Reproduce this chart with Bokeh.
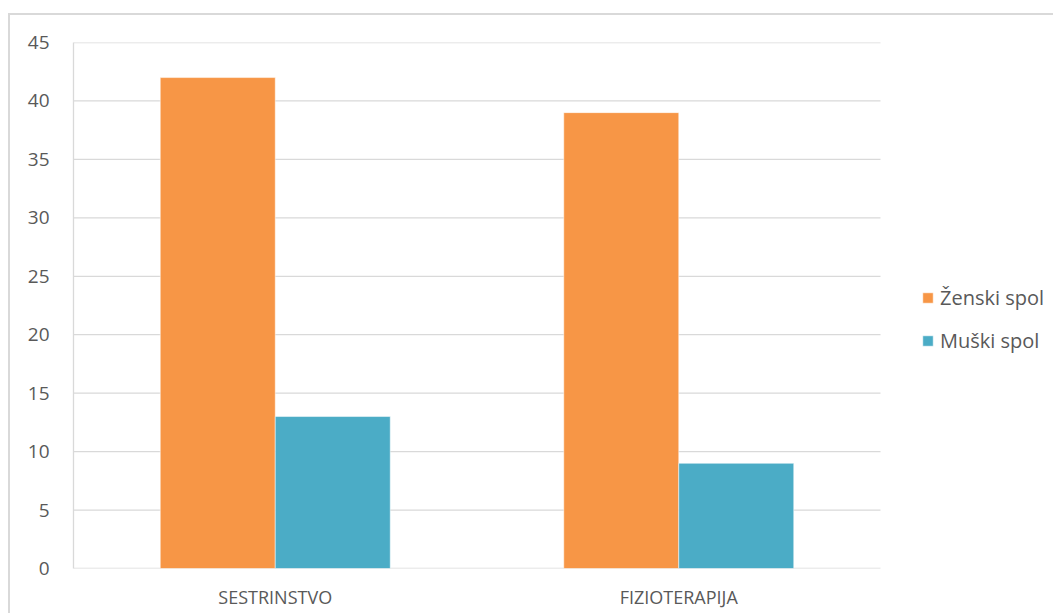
from bokeh.plotting import figure
from bokeh.models import Legend, LegendItem, ColumnDataSource, FixedTicker
from bokeh.embed import file_html
from bokeh.resources import INLINE

categories = ["SESTRINSTVO", "FIZIOTERAPIJA"]
zenski = [42, 39]
muski = [13, 9]
series_names = ["Ženski spol", "Muški spol"]
y_ticks = [0, 5, 10, 15, 20, 25, 30, 35, 40, 45]

FONT = "Open Sans"
TXT = "#595959"
GRID = "#d9d9d9"

n = len(categories)
centers = [i + 0.5 for i in range(n)]
BW = 0.285
src = ColumnDataSource(dict(xz=[c - BW / 2 for c in centers], xm=[c + BW / 2 for c in centers],
                            z=zenski, m=muski))

# plot area is 807 px for the categories; the frame continues to the right for the legend
W, H = 1045, 600
LEFT, TOP, BOTTOM = 63, 27, 47
area_px = 807
frame_px = W - LEFT
x_end = n * frame_px / area_px

p = figure(x_range=(0, x_end), y_range=(0, 45), width=W, height=H,
           output_backend="svg", toolbar_location=None,
           min_border_left=LEFT, min_border_right=0, min_border_top=TOP, min_border_bottom=BOTTOM)
p.margin = (13, 0, 0, 8)
p.styles = {"border-left": "2px solid #d9d9d9", "border-top": "2px solid #d9d9d9"}
p.outline_line_color = None
p.background_fill_color = "white"
p.border_fill_color = "white"
p.grid.grid_line_color = None

# horizontal gridlines over the plot area only
p.segment(x0=[0] * len(y_ticks), x1=[n] * len(y_ticks), y0=y_ticks, y1=y_ticks,
          line_color=GRID, line_width=1.3, level="underlay")

r1 = p.vbar(x="xz", top="z", width=BW, source=src,
            fill_color="#F79646", line_color="white", line_width=0.5)
r2 = p.vbar(x="xm", top="m", width=BW, source=src,
            fill_color="#4BACC6", line_color="white", line_width=0.5)

p.yaxis.ticker = FixedTicker(ticks=y_ticks)
p.yaxis.axis_line_color = GRID
p.yaxis.axis_line_width = 1.3
p.yaxis.major_tick_line_color = None
p.yaxis.minor_tick_line_color = None
p.yaxis.major_label_standoff = 18
p.yaxis.major_label_text_font = FONT
p.yaxis.major_label_text_font_size = "19px"
p.yaxis.major_label_text_color = TXT

p.xaxis.ticker = FixedTicker(ticks=centers)
p.xaxis.major_label_overrides = {c: cat for c, cat in zip(centers, categories)}
p.xaxis.axis_line_color = None
p.xaxis.major_tick_line_color = None
p.xaxis.minor_tick_line_color = None
p.xaxis.major_label_standoff = 10
p.xaxis.major_label_text_font = FONT
p.xaxis.major_label_text_font_size = "18px"
p.xaxis.major_label_text_color = TXT

legend = Legend(items=[LegendItem(label=series_names[0], renderers=[r1]),
                       LegendItem(label=series_names[1], renderers=[r2])],
                location=(848, 214), orientation="vertical")
legend.glyph_width = 13
legend.glyph_height = 13
legend.label_text_font = FONT
legend.label_text_font_size = "20px"
legend.label_text_color = TXT
legend.label_standoff = 6
legend.spacing = 16
legend.padding = 0
legend.margin = 0
legend.border_line_color = None
legend.background_fill_alpha = 0
p.add_layout(legend, "center")

open("out.html", "w").write(file_html(p, INLINE))
